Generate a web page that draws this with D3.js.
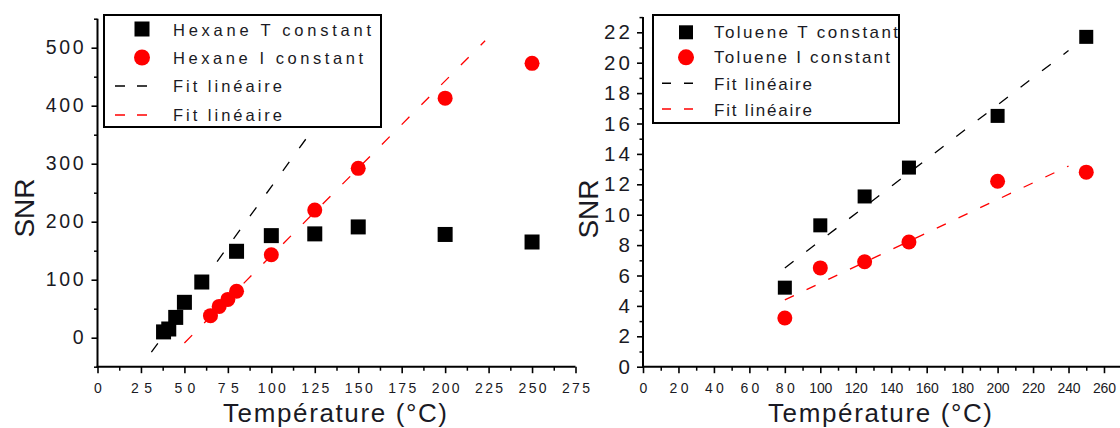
<!DOCTYPE html>
<html>
<head>
<meta charset="utf-8">
<script src="https://cdn.jsdelivr.net/npm/d3@7"></script>
<style>
  html, body { margin: 0; padding: 0; background: #fff; }
  svg { display: block; }
  text { font-family: "Liberation Sans", Arial, sans-serif; fill: #1a1a24; }
</style>
</head>
<body>
<svg id="chart" width="1120" height="428"></svg>
<script>
// ---------- Data ----------
// Left panel: Hexane
const hexTx = [38, 41, 45, 50, 60, 80, 100, 125, 150, 200, 250];
const hexTy = [10, 15, 35, 61, 96, 149, 176, 179, 191, 178, 165];
const hexIx = [65, 70, 75, 80, 100, 125, 150, 200, 250];
const hexIy = [38, 54, 66, 80, 143, 220, 292, 413, 473];
const hexFitTx = [31, 120];
const hexFitTy = [-25, 343];
const hexFitIx = [50, 223];
const hexFitIy = [-9, 512];

// Right panel: Toluene
const tolX = [80, 100, 125, 150, 200, 250];
const tolTy = [5.2, 9.3, 11.2, 13.1, 16.5, 21.7];
const tolIy = [3.2, 6.5, 6.9, 8.2, 12.2, 12.8];
const tolFitTx = [80, 240];
const tolFitTy = [6.5, 20.8];
const tolFitIx = [80, 240];
const tolFitIy = [4.4, 13.2];

// Tick values
const leftXMajor = [0, 25, 50, 75, 100, 125, 150, 175, 200, 225, 250, 275];
const leftXMinor = [12.5, 37.5, 62.5, 87.5, 112.5, 137.5, 162.5, 187.5, 212.5, 237.5, 262.5];
const leftYMajor = [0, 100, 200, 300, 400, 500];
const leftYMinor = [-50, 50, 150, 250, 350, 450, 550];
const rightXMajor = [0, 20, 40, 60, 80, 100, 120, 140, 160, 180, 200, 220, 240, 260];
const rightXMinor = [10, 30, 50, 70, 90, 110, 130, 150, 170, 190, 210, 230, 250, 270];
const rightYMajor = [0, 2, 4, 6, 8, 10, 12, 14, 16, 18, 20, 22];
const rightYMinor = [1, 3, 5, 7, 9, 11, 13, 15, 17, 19, 21, 23];

const legendLeft = ["Hexane T constant", "Hexane I constant", "Fit linéaire", "Fit linéaire"];
const legendRight = ["Toluene T constant", "Toluene I constant", "Fit linéaire", "Fit linéaire"];
const xTitle = "Température (°C)";
const yTitle = "SNR";

const svg = d3.select("#chart");
const RED = "#ff0000";

function zip(a, b) { return a.map((v, i) => [v, b[i]]); }

function drawPanel(cfg) {
  const g = svg.append("g");
  const x = cfg.x, y = cfg.y;
  const axisY = cfg.axisBottom;

  // X axis (bottom)
  const gx = g.append("g").attr("transform", `translate(0,${axisY})`);
  gx.call(d3.axisBottom(x).tickValues(cfg.xMinor).tickSize(4).tickFormat(""))
    .call(s => s.select(".domain").remove())
    .call(s => s.selectAll("line").attr("stroke", "#000").attr("stroke-width", 1.5));
  const gx2 = g.append("g").attr("transform", `translate(0,${axisY})`);
  gx2.call(d3.axisBottom(x).tickValues(cfg.xMajor).tickSize(6.5).tickPadding(10).tickFormat(d3.format("d")))
    .call(s => s.select(".domain").remove())
    .call(s => s.selectAll("line").attr("stroke", "#000").attr("stroke-width", 1.6));
  gx2.selectAll("text")
    .attr("font-size", 14).attr("fill", "#15151f")
    .each(function(d) {
      const t = String(d);
      if (t.length > 1) d3.select(this).attr("textLength", cfg.xLen[t.length]).attr("lengthAdjust", "spacing");
    });
  g.append("line")
    .attr("x1", x.range()[0] - 1).attr("x2", x.range()[1])
    .attr("y1", axisY).attr("y2", axisY)
    .attr("stroke", "#000").attr("stroke-width", 2);

  // Y axis (left)
  const ax = x.range()[0];
  const gy = g.append("g").attr("transform", `translate(${ax},0)`);
  gy.call(d3.axisLeft(y).tickValues(cfg.yMinor).tickSize(3.5).tickFormat(""))
    .call(s => s.select(".domain").remove())
    .call(s => s.selectAll("line").attr("stroke", "#000").attr("stroke-width", 1.5));
  const gy2 = g.append("g").attr("transform", `translate(${ax},0)`);
  gy2.call(d3.axisLeft(y).tickValues(cfg.yMajor).tickSize(6).tickPadding(cfg.yPad).tickFormat(d3.format("d")))
    .call(s => s.select(".domain").remove())
    .call(s => s.selectAll("line").attr("stroke", "#000").attr("stroke-width", 1.6));
  gy2.selectAll("text")
    .attr("font-size", cfg.yFs).attr("fill", "#15151f")
    .each(function(d) {
      const t = String(d);
      if (t.length > 1) d3.select(this).attr("textLength", cfg.yLen * t.length).attr("lengthAdjust", "spacing");
    });
  g.append("line")
    .attr("x1", ax).attr("x2", ax)
    .attr("y1", y.range()[1]).attr("y2", axisY + 1)
    .attr("stroke", "#000").attr("stroke-width", 2);

  // Titles
  g.append("text")
    .attr("x", cfg.xTitleX).attr("y", 421.5)
    .attr("text-anchor", "middle")
    .attr("font-size", 26).attr("fill", "#111")
    .attr("textLength", 224).attr("lengthAdjust", "spacing")
    .text(xTitle);
  g.append("text")
    .attr("transform", `translate(${cfg.yTitleX},${cfg.yTitleY}) rotate(-90)`)
    .attr("text-anchor", "middle")
    .attr("font-size", 28).attr("fill", "#111")
    .text(yTitle);

  // Fit lines
  const line = d3.line().x(d => x(d[0])).y(d => y(d[1]));
  cfg.fits.forEach(f => {
    g.append("path")
      .attr("d", line(zip(f.xs, f.ys)))
      .attr("fill", "none")
      .attr("stroke", f.color)
      .attr("stroke-width", 1.3)
      .attr("stroke-dasharray", f.dash);
  });

  // Markers
  g.append("g").selectAll("rect")
    .data(zip(cfg.sqX, cfg.sqY)).join("rect")
    .attr("x", d => x(d[0]) - cfg.sq / 2).attr("y", d => y(d[1]) - cfg.sq / 2)
    .attr("width", cfg.sq).attr("height", cfg.sq)
    .attr("fill", "#000");
  g.append("g").selectAll("circle")
    .data(zip(cfg.ciX, cfg.ciY)).join("circle")
    .attr("cx", d => x(d[0])).attr("cy", d => y(d[1]))
    .attr("r", cfg.cr)
    .attr("fill", RED);

  // Legend
  const L = cfg.legend;
  g.append("rect")
    .attr("x", L.x0).attr("y", L.y0)
    .attr("width", L.x1 - L.x0).attr("height", L.y1 - L.y0)
    .attr("fill", "#fff").attr("stroke", "#000").attr("stroke-width", 2);
  g.append("rect")
    .attr("x", L.symX - L.sq / 2).attr("y", L.rows[0] - L.sq / 2)
    .attr("width", L.sq).attr("height", L.sq).attr("fill", "#000");
  g.append("circle")
    .attr("cx", L.symX).attr("cy", L.rows[1]).attr("r", L.cr).attr("fill", RED);
  [[2, "#000"], [3, RED]].forEach(([i, c]) => {
    g.append("line")
      .attr("x1", L.dashX[0]).attr("x2", L.dashX[1])
      .attr("y1", L.rows[i]).attr("y2", L.rows[i])
      .attr("stroke", c).attr("stroke-width", 1.5)
      .attr("stroke-dasharray", L.dash);
  });
  L.labels.forEach((t, i) => {
    g.append("text")
      .attr("x", L.textX).attr("y", L.base[i])
      .attr("font-size", L.fs).attr("fill", "#1a1430")
      .attr("textLength", L.lens[i]).attr("lengthAdjust", "spacing")
      .text(t);
  });
}

// Left panel
drawPanel({
  x: d3.scaleLinear().domain([0, 275]).range([97.5, 575.5]),
  y: d3.scaleLinear().domain([-50, 550]).range([366.7, 18.7]),
  axisBottom: 366.7,
  xMajor: leftXMajor, xMinor: leftXMinor,
  yMajor: leftYMajor, yMinor: leftYMinor,
  xLen: {2: 21, 3: 28},
  yLen: 12.6, yPad: 8, yFs: 19.5,
  xTitleX: 335, yTitleX: 34, yTitleY: 208,
  sqX: hexTx, sqY: hexTy, sq: 15,
  ciX: hexIx, ciY: hexIy, cr: 7.5,
  fits: [
    {xs: hexFitTx, ys: hexFitTy, color: "#000", dash: "11,17"},
    {xs: hexFitIx, ys: hexFitIy, color: RED, dash: "11,17"}
  ],
  legend: {
    x0: 104, x1: 381, y0: 15, y1: 127,
    rows: [29, 57.5, 86, 115],
    base: [36, 64, 92, 120.5],
    symX: 142, sq: 15, cr: 8,
    dashX: [115, 147], dash: "10,12",
    textX: 173, fs: 16.5,
    labels: legendLeft,
    lens: [198, 190, 109, 109]
  }
});

// Right panel
drawPanel({
  x: d3.scaleLinear().domain([0, 280]).range([643, 643 + 280 * 1.773]),
  y: d3.scaleLinear().domain([0, 23]).range([366.7, 366.7 - 23 * 15.2]),
  axisBottom: 366.7,
  xMajor: rightXMajor, xMinor: rightXMinor,
  yMajor: rightYMajor, yMinor: rightYMinor,
  xLen: {2: 19, 3: 23},
  yLen: 13, yPad: 7, yFs: 20.5,
  xTitleX: 880, yTitleX: 598, yTitleY: 209,
  sqX: tolX, sqY: tolTy, sq: 14,
  ciX: tolX, ciY: tolIy, cr: 7.5,
  fits: [
    {xs: tolFitTx, ys: tolFitTy, color: "#000", dash: "11,16"},
    {xs: tolFitIx, ys: tolFitIy, color: RED, dash: "10,14"}
  ],
  legend: {
    x0: 653, x1: 899, y0: 15, y1: 123,
    rows: [32.3, 57.3, 83.3, 109],
    base: [37.5, 63.3, 90, 115.7],
    symX: 686, sq: 14, cr: 8,
    dashX: [662, 693], dash: "9,13",
    textX: 714, fs: 17,
    labels: legendRight,
    lens: [184, 176, 98, 98]
  }
});
</script>
</body>
</html>
